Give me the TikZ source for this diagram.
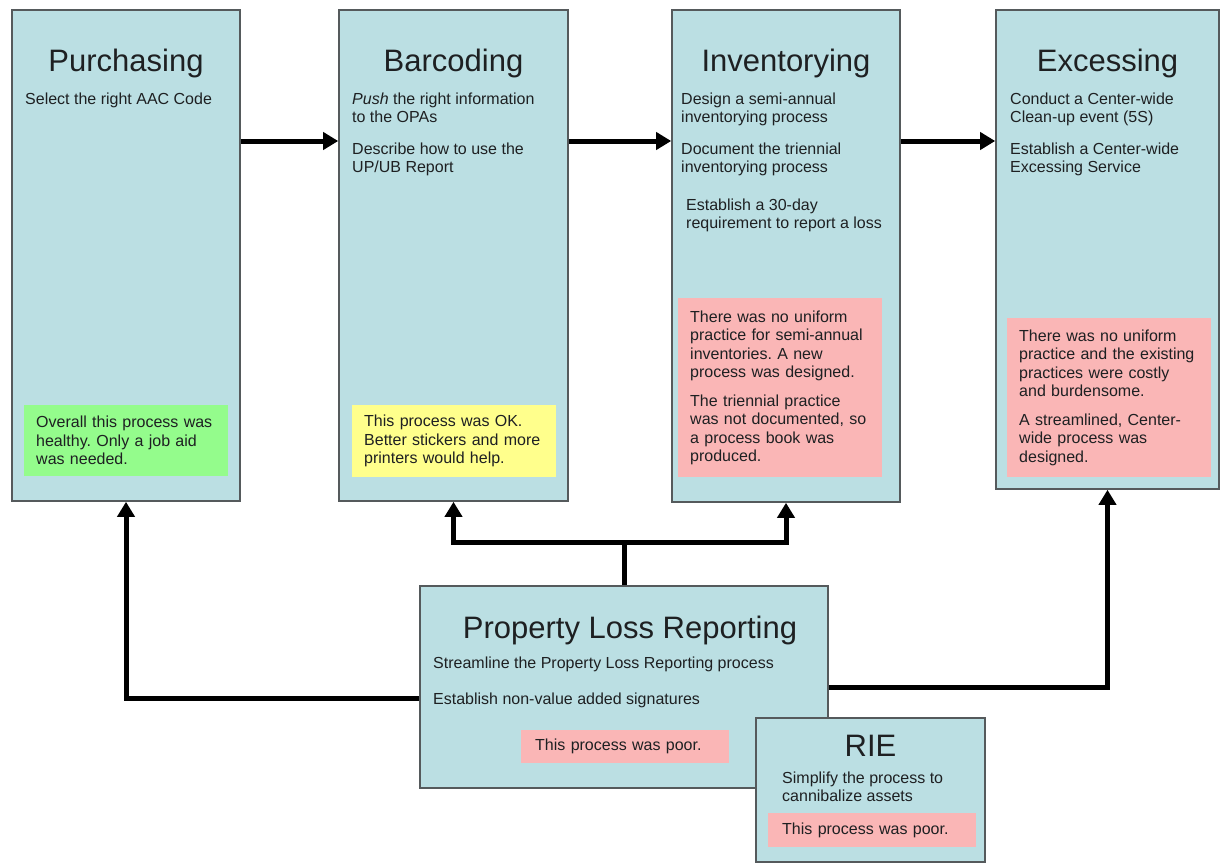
\documentclass[tikz,border=0pt]{standalone}
\usepackage{fontspec}
\setmainfont{Liberation Sans}
\usetikzlibrary{arrows.meta,positioning}
\frenchspacing
\definecolor{boxblue}{RGB}{187,223,227}
\definecolor{okgreen}{RGB}{148,252,140}
\definecolor{okyellow}{RGB}{255,255,140}
\definecolor{badpink}{RGB}{250,182,182}
\definecolor{edgegray}{RGB}{85,90,92}
\definecolor{inkgray}{RGB}{30,32,34}
\newcommand{\titlefont}{\fontsize{31}{31}\selectfont}
\newcommand{\bodyfont}{\fontsize{16}{18.5}\selectfont}
\tikzset{stage/.style={draw=edgegray, fill=boxblue, line width=1.6pt, rectangle, inner sep=0pt}}
\tikzset{heading/.style={anchor=base, font=\titlefont, text=inkgray, inner sep=0pt}}
\tikzset{entry/.style={anchor=north west, font=\bodyfont, text=inkgray, align=left, inner sep=0pt}}
\tikzset{note/.style={anchor=north west, fill=#1, font=\bodyfont, text=inkgray, align=left, text width=180pt, inner xsep=12pt, inner ysep=0pt}}
\tikzset{flow/.style={line width=5pt}}
\tikzset{feed/.style={flow, -{Triangle[width=17pt,length=15pt]}}}

\begin{document}
\begin{tikzpicture}[x=1pt, y=-1pt]
    \useasboundingbox (0,0) rectangle (1221,863);

    % the four stages
    \node[stage, minimum width=228pt, minimum height=491pt] at (126,255.5) (purch) {};
    \node[stage, minimum width=229pt, minimum height=491pt] at (453.5,255.5) (barc) {};
    \node[stage, minimum width=228pt, minimum height=492pt] at (786,256) (inv) {};
    \node[stage, minimum width=223pt, minimum height=479pt] at (1107.5,249.5) (exc) {};

    \node[heading] at (126,71) (purchtitle) {Purchasing};
    \node[heading] at (453.5,71) (barctitle) {Barcoding};
    \node[heading] at (786,71) (invtitle) {Inventorying};
    \node[heading] at (1107.5,71) (exctitle) {Excessing};

    \node[entry] at (25,92.3) (purchtext) {Select the right AAC Code};
    \node[entry] at (352,92.3) (barctext) {\textit{Push} the right information\\ to the OPAs\\[13pt] Describe how to use the\\ UP/UB Report};
    \node[entry] at (681,92.3) (invtext) {Design a semi-annual\\ inventorying process\\[13pt] Document the triennial\\ inventorying process};
    \node[entry] at (686,198.3) (invloss) {Establish a 30-day\\ requirement to report a loss};
    \node[entry] at (1010,92.3) (exctext) {Conduct a Center-wide\\ Clean-up event (5S)\\[13pt] Establish a Center-wide\\ Excessing Service};

    \node[note=okgreen, minimum height=71pt] at (24,405) (purchnote) {Overall this process was\\ healthy. Only a job aid\\ was needed.};
    \node[note=okyellow, minimum height=72pt] at (352,405) (barcnote) {This process was OK.\\ Better stickers and more\\ printers would help.};
    \node[note=badpink, minimum height=179pt] at (678,298) (invnote) {There was no uniform\\ practice for semi-annual\\ inventories. A new\\ process was designed.\\[10pt] The triennial practice\\ was not documented, so\\ a process book was\\ produced.};
    \node[note=badpink, minimum height=159pt] at (1007,318) (excnote) {There was no uniform\\ practice and the existing\\ practices were costly\\ and burdensome.\\[10pt] A streamlined, Center-\\ wide process was\\ designed.};

    % property loss reporting
    \node[stage, minimum width=408pt, minimum height=202pt] at (624,687) (plr) {};
    \node[heading] at (630,638) (plrtitle) {Property Loss Reporting};
    \node[entry] at (433,656.3) (plrtext) {Streamline the Property Loss Reporting process};
    \node[entry] at (433,692.3) (plrsig) {Establish non-value added signatures};
    \node[note=badpink, minimum height=33pt, inner xsep=14pt] at (521,730) (plrnote) {This process was poor.};

    % RIE
    \node[stage, minimum width=229pt, minimum height=144pt] at (870.5,790) (rie) {};
    \node[heading] at (870.5,756) (rietitle) {RIE};
    \node[entry] at (782,771.3) (rietext) {Simplify the process to\\ cannibalize assets};
    \node[note=badpink, minimum height=34pt, inner xsep=14pt] at (768,813) (rienote) {This process was poor.};

    % connectors
    \coordinate (toprow) at (0,141);
    \coordinate (fork) at (624,542);
    \coordinate (leftrow) at (0,698);
    \coordinate (rightrow) at (0,687);
    \draw[feed] (purch.east |- toprow) -- (barc.west |- toprow);
    \draw[feed] (barc.east |- toprow) -- (inv.west |- toprow);
    \draw[feed] (inv.east |- toprow) -- (exc.west |- toprow);
    \draw[flow] (plr.north) -- (fork);
    \draw[feed] (fork) -| (barc.south);
    \draw[feed] (fork) -| (inv.south);
    \draw[feed] (plr.west |- leftrow) -| (purch.south);
    \draw[feed] (plr.east |- rightrow) -| (exc.south);
\end{tikzpicture}
\end{document}
